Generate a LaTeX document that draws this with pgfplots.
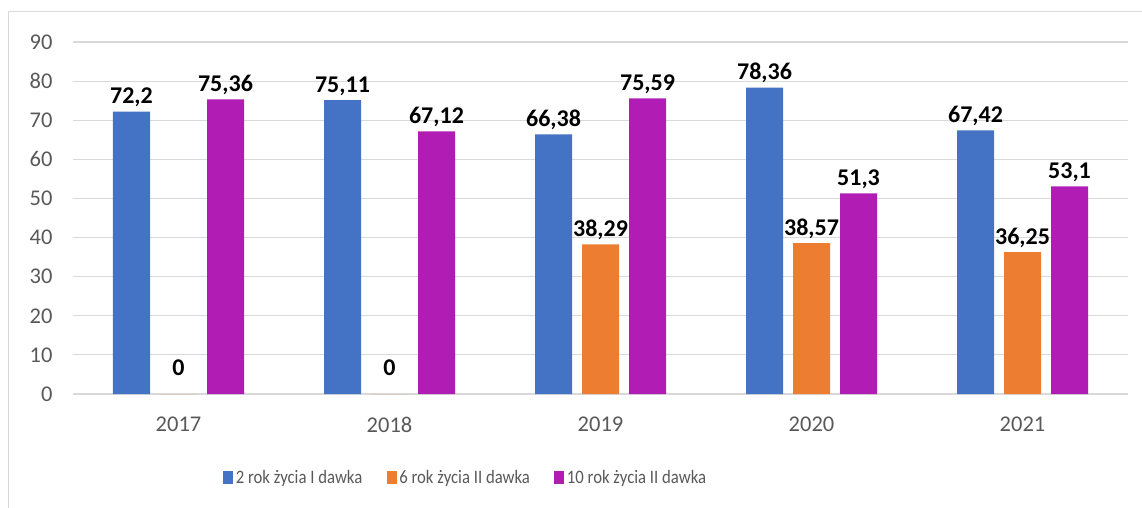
\documentclass[border=0pt]{standalone}
\usepackage{graphicx}
\usepackage{pgfplots}
\pgfplotsset{compat=1.18}
\usepackage{fontspec}
\setmainfont{Carlito}
\definecolor{cblue}{HTML}{4472C4}
\definecolor{corange}{HTML}{ED7D31}
\definecolor{cpurple}{HTML}{B11DB4}
\definecolor{ctext}{HTML}{595959}
\definecolor{cgrid}{HTML}{D9D9D9}
\newcommand{\legtext}[1]{\scalebox{0.88}[1]{#1}}
\begin{document}
\begin{tikzpicture}[x=1pt,y=1pt]
\useasboundingbox (0,0) rectangle (1142,507);
\draw[cgrid, line width=1pt] (8,-5) -- (8,495) -- (1150,495);
\begin{axis}[
  at={(73pt,113pt)}, anchor=south west,
  scale only axis, width=1055pt, height=352pt,
  ybar=10pt, bar width=37pt,
  xmin=-0.5, xmax=4.5, ymin=0, ymax=90,
  xtick={0,1,2,3,4}, xticklabels={2017,2018,2019,2020,2021},
  ytick={0,10,...,90},
  ymajorgrids, grid style={cgrid, line width=1.2pt},
  axis line style={draw=none}, tick style={draw=none},
  /pgf/number format/assume math mode=true,
  ticklabel style={font=\fontsize{22.5}{24}\selectfont, text=ctext},
  yticklabel style={xshift=-17pt},
  xticklabel style={yshift=-15pt},
  nodes near coords,
  every node near coord/.append style={font=\fontsize{24}{26}\selectfont\bfseries, text=black, yshift=1pt},
  /pgf/number format/use comma,
  /pgf/number format/precision=2,
  legend columns=3,
  legend style={at={(0.3725,-0.237)}, anchor=center, draw=none, fill=none,
    font=\fontsize{19}{21}\selectfont, text=ctext,
    nodes={inner xsep=2.5pt},
    /tikz/every even column/.append style={column sep=22pt}},
  legend image code/.code={\fill[#1] (0pt,-6.5pt) rectangle (10pt,6.5pt);},
]
\addplot[fill=cblue, draw=none] coordinates {(0,72.2) (1,75.11) (2,66.38) (3,78.36) (4,67.42)};
\addplot[fill=corange, draw=none,
  visualization depends on={rawy \as \rawy},
  every node near coord/.append style={yshift={ifthenelse(\rawy<0.01,14,0)}}]
  coordinates {(0,0) (1,0) (2,38.29) (3,38.57) (4,36.25)};
\addplot[fill=cpurple, draw=none] coordinates {(0,75.36) (1,67.12) (2,75.59) (3,51.3) (4,53.1)};
\legend{\legtext{2 rok życia I dawka}, \legtext{6 rok życia II dawka}, \legtext{10 rok życia II dawka}}
\end{axis}
\end{tikzpicture}
\end{document}
